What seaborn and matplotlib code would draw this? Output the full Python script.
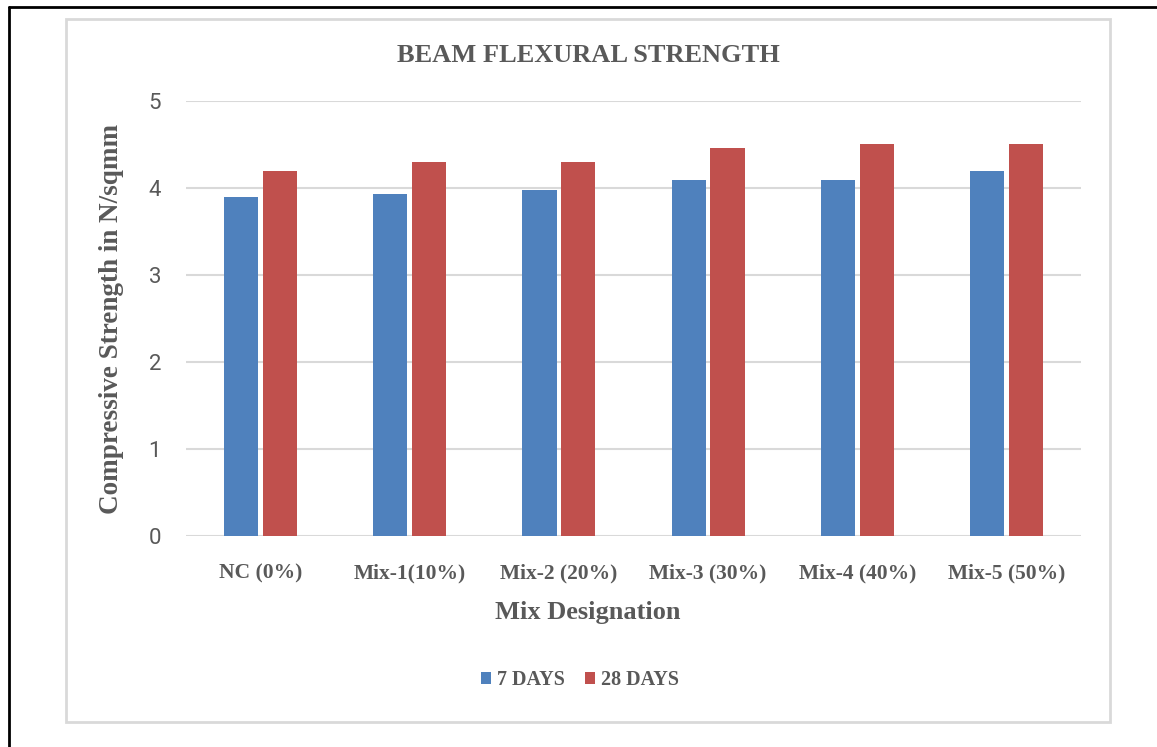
import matplotlib
matplotlib.use("Agg")
import matplotlib.pyplot as plt
import pandas as pd
import seaborn as sns
from matplotlib.lines import Line2D
from matplotlib.patches import Rectangle

sns.set_style("white")

# ==============================
# Dados
# ==============================
misturas = ['NC (0%)', 'Mix-1(10%)', 'Mix-2 (20%)', 'Mix-3 (30%)', 'Mix-4 (40%)', 'Mix-5 (50%)']
dias_7 = [3.9, 3.93, 3.98, 4.09, 4.09, 4.2]
dias_28 = [4.2, 4.3, 4.3, 4.46, 4.5, 4.5]
series = ['7 DAYS', '28 DAYS']
cores = ['#4f81bd', '#c0504d']

df = pd.DataFrame({
    'mix': misturas * 2,
    'serie': [series[0]] * len(misturas) + [series[1]] * len(misturas),
    'valor': dias_7 + dias_28,
})

cinza = '#595959'
serif = 'Liberation Serif'

fig = plt.figure(figsize=(11.57, 7.47), dpi=100)
ax = fig.add_axes([0.1608, 0.2825, 0.7735, 0.5823])

sns.barplot(data=df, x='mix', y='valor', hue='serie', palette=cores, saturation=1,
            width=0.52, gap=0.12, linewidth=0, ax=ax, legend=True)

ax.set_ylim(0, 5)
ax.set_yticks([0, 1, 2, 3, 4, 5])
ax.yaxis.grid(True, color='#d9d9d9', linewidth=1.5)
ax.set_axisbelow(True)
for s in ax.spines.values():
    s.set_visible(False)
ax.tick_params(axis='both', length=0)
ax.tick_params(axis='y', pad=18, labelsize=16, labelcolor=cinza)
ax.tick_params(axis='x', pad=20)
for lbl in ax.get_yticklabels():
    lbl.set_family('Roboto')
for lbl in ax.get_xticklabels():
    lbl.set_family(serif)
    lbl.set_fontweight('bold')
    lbl.set_fontsize(15.5)
    lbl.set_color(cinza)

ax.set_xlabel('')
ax.set_ylabel('Compressive Strength in N/sqmm', family=serif, fontweight='bold',
              fontsize=19.5, color=cinza, labelpad=18)

# título, rótulo do eixo x e legenda centrados na moldura
cx = (66 + 1110) / 2 / 1157
fig.text(cx, 1 - 56 / 747, 'BEAM FLEXURAL STRENGTH', family=serif, fontweight='bold',
         fontsize=19, color=cinza, ha='center', va='center')
fig.text(cx, 1 - 612 / 747, 'Mix Designation', family=serif, fontweight='bold',
         fontsize=19, color=cinza, ha='center', va='center')

handles, labels = ax.get_legend_handles_labels()
ax.get_legend().remove()
leg = fig.legend(handles, labels, loc='center', bbox_to_anchor=(580 / 1157, 1 - 680 / 747),
                 ncol=2, frameon=False, handlelength=0.5, handleheight=0.5,
                 handletextpad=0.3, columnspacing=1.0,
                 prop={'family': serif, 'weight': 'bold', 'size': 14.5})
for t in leg.get_texts():
    t.set_color(cinza)

# moldura cinza do gráfico e bordas pretas
fig.add_artist(Rectangle((0.057, 0.0335), 0.9023, 0.941, transform=fig.transFigure,
                         fill=False, edgecolor='#d9d9d9', linewidth=2))
fig.add_artist(Line2D([0.008, 0.008], [0, 0.991], transform=fig.transFigure,
                      color='black', linewidth=2))
fig.add_artist(Line2D([0.008, 1.0], [0.991, 0.991], transform=fig.transFigure,
                      color='black', linewidth=2))

fig.savefig('out.png', dpi=100)
